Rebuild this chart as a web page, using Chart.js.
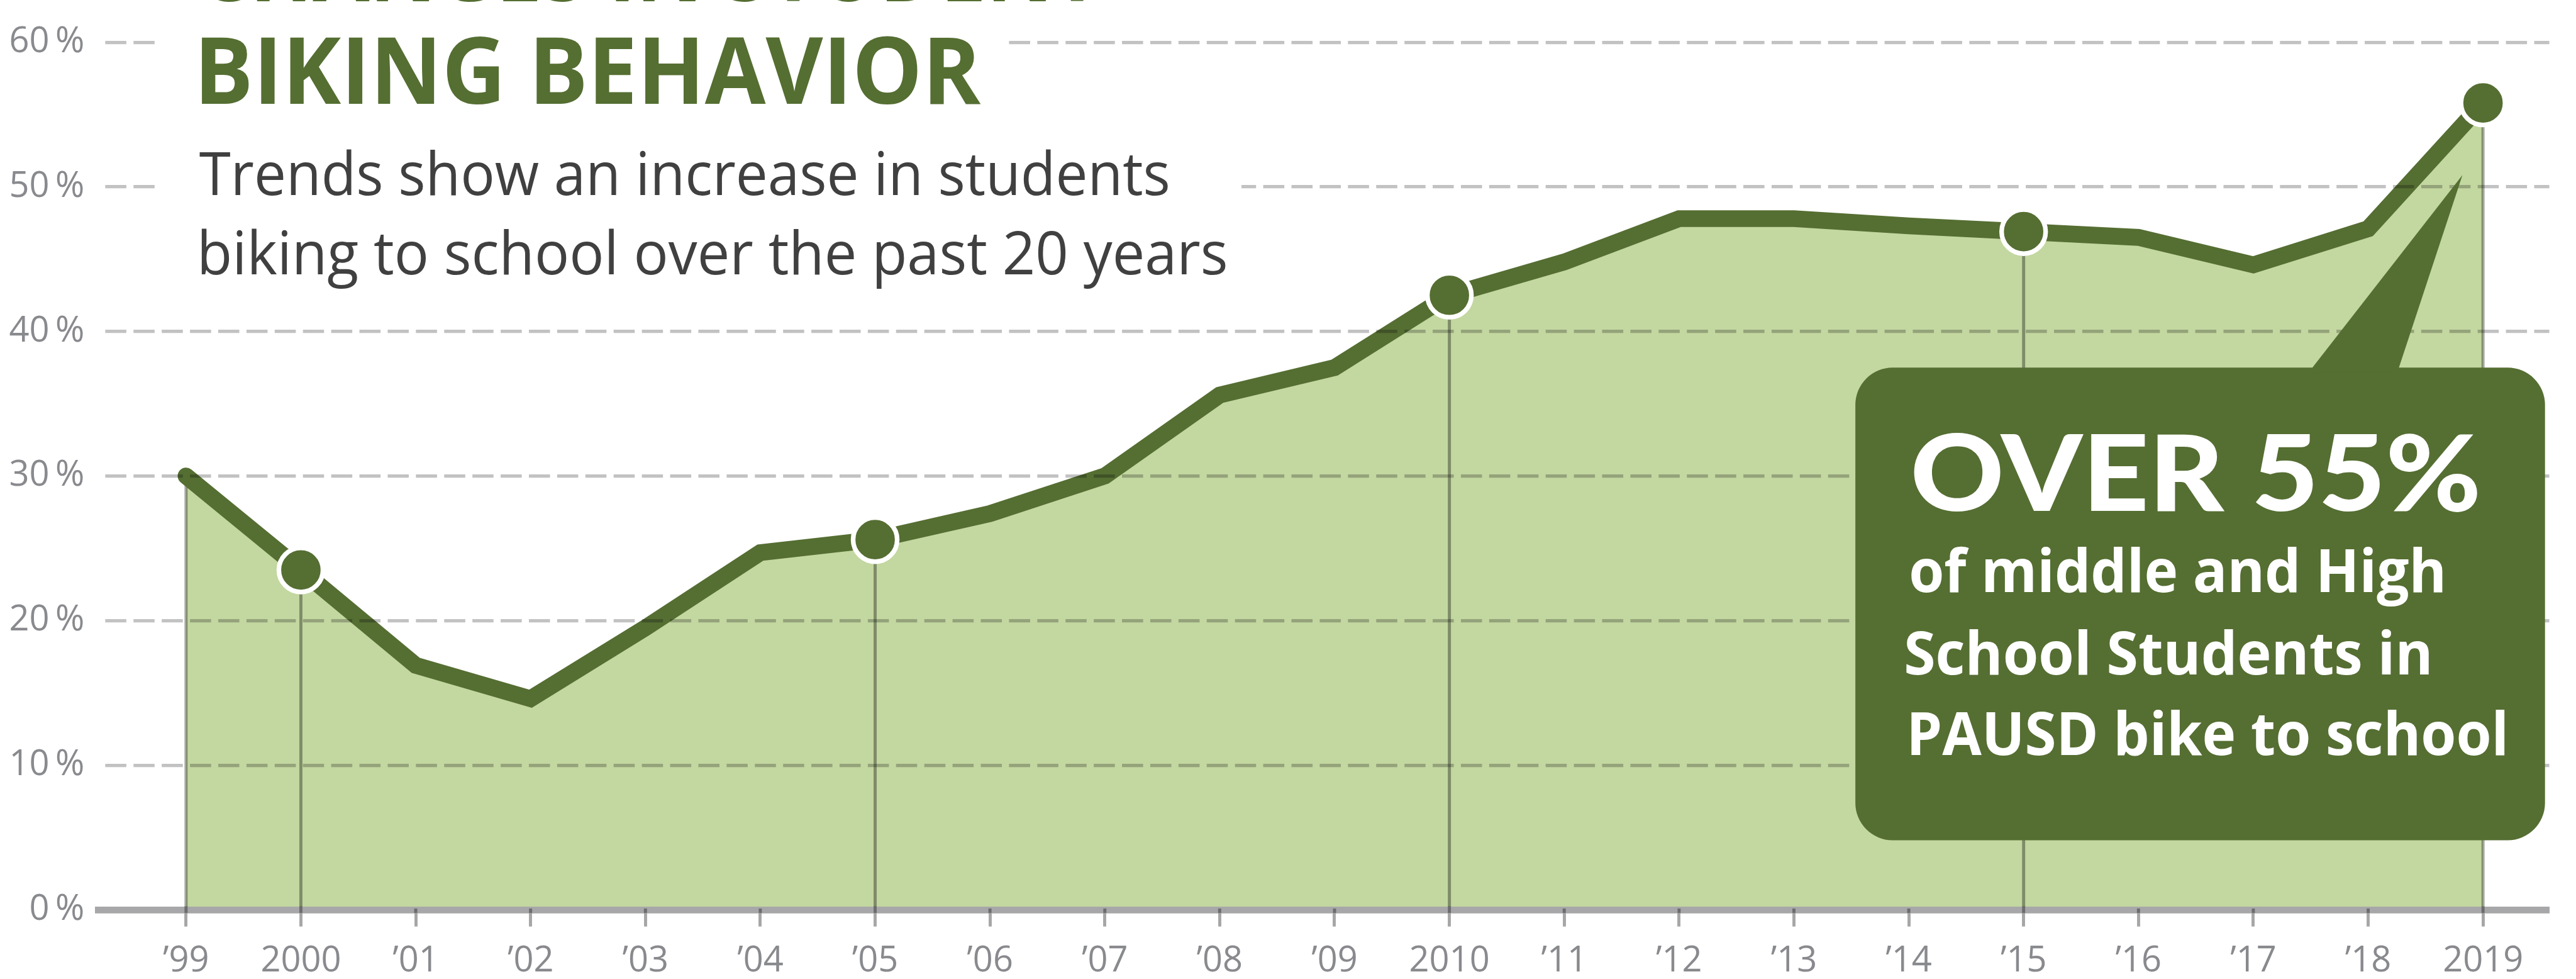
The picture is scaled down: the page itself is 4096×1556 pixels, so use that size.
<!DOCTYPE html>
<html>
<head>
<meta charset="utf-8">
<title>Changes in Student Biking Behavior</title>
<script src="https://cdn.jsdelivr.net/npm/chart.js@4.4.1/dist/chart.umd.min.js"></script>
<style>
  html, body { margin: 0; padding: 0; background: #fff; }
  #wrap { width: 4096px; height: 1556px; position: relative; }
</style>
</head>
<body>
<div id="wrap"><canvas id="bikeChart"></canvas></div>
<script>
// share of PAUSD middle/high school students biking to school
const years = [1999, 2000, 2001, 2002, 2003, 2004, 2005, 2006, 2007, 2008, 2009,
               2010, 2011, 2012, 2013, 2014, 2015, 2016, 2017, 2018, 2019];
const xLabels = ["\u201999", "2000", "\u201901", "\u201902", "\u201903", "\u201904", "\u201905",
                 "\u201906", "\u201907", "\u201908", "\u201909", "2010", "\u201911", "\u201912",
                 "\u201913", "\u201914", "\u201915", "\u201916", "\u201917", "\u201918", "2019"];
const bikingShare = [30, 23.5, 16.9, 14.6, 19.5, 24.7, 25.6, 27.4, 30, 35.6, 37.5,
                     42.5, 44.8, 47.8, 47.8, 47.3, 46.9, 46.5, 44.6, 47.1, 55.8];
const markerYears = [2000, 2005, 2010, 2015, 2019];
const dropYears = [1999, 2000, 2005, 2010, 2015, 2019];
const yTicks = [0, 10, 20, 30, 40, 50, 60];
const yTickLabels = ["0\u2009%", "10\u2009%", "20\u2009%", "30\u2009%", "40\u2009%", "50\u2009%", "60\u2009%"];

const titleLines = ["CHANGES IN STUDENT", "BIKING BEHAVIOR"];
const subtitleLines = ["Trends show an increase in students", "biking to school over the past 20 years"];
const calloutHead = "OVER 55%";
const calloutLines = ["of middle and High", "School Students in", "PAUSD bike to school"];

// everything below is measured on the 4146px wide original, S shrinks it to the window
const S = 0.987;
const W = 4096, H = 1556;
const plotLeft = 158, plotRight = 4115, plotTop = 68, plotBottom = 1465;
const firstX = 300, stepX = 185.4;

const darkGreen = "#556e32";
const lightGreen = "#c3d7a0";
const labelGrey = "#898a8e";
const tickFont = { family: '"Open Sans", sans-serif', size: 56, weight: 400 };

const xMin = years[0] + (plotLeft - firstX) / stepX;
const xMax = years[0] + (plotRight - firstX) / stepX;

function fitText(ctx, text, font, color, inkLeft, inkRight, baseline) {
  ctx.save();
  ctx.font = font;
  ctx.fillStyle = color;
  ctx.textAlign = "left";
  ctx.textBaseline = "alphabetic";
  const m = ctx.measureText(text);
  const inkW = m.actualBoundingBoxLeft + m.actualBoundingBoxRight;
  const sx = (inkRight - inkLeft) * S / inkW;
  ctx.translate(inkLeft * S, baseline * S);
  ctx.scale(sx, 1);
  ctx.fillText(text, m.actualBoundingBoxLeft, 0);
  ctx.restore();
}

const decorations = {
  id: "decorations",
  beforeDatasetDraw(chart, args) {
    // drop lines sit on the fill but under the line and the dots
    if (args.index !== 0) return;
    const { ctx, scales: { x, y } } = chart;
    ctx.save();
    ctx.strokeStyle = "rgba(0,0,0,0.35)";
    ctx.lineWidth = 5 * S;
    dropYears.forEach(yr => {
      const px = x.getPixelForValue(yr);
      ctx.beginPath();
      ctx.moveTo(px, y.getPixelForValue(bikingShare[years.indexOf(yr)]));
      ctx.lineTo(px, y.getPixelForValue(0));
      ctx.stroke();
    });
    ctx.restore();
  },
  afterDraw(chart) {
    const { ctx, scales: { x, y } } = chart;
    const y0 = y.getPixelForValue(0);
    const half = 5.5 * S;

    // tick marks continue a little way into the axis bar
    ctx.save();
    ctx.strokeStyle = "rgba(0,0,0,0.35)";
    ctx.lineWidth = 5 * S;
    years.forEach(yr => {
      const px = x.getPixelForValue(yr);
      const top = dropYears.includes(yr) ? y0 - half : y0 - 2 * S;
      ctx.beginPath();
      ctx.moveTo(px, top);
      ctx.lineTo(px, y0 + half);
      ctx.stroke();
    });
    ctx.restore();

    // white boxes behind the heading knock out the grid lines
    ctx.save();
    ctx.fillStyle = "#fff";
    ctx.fillRect(250 * S, 0, (1614 - 250) * S, 195 * S);
    ctx.fillRect(250 * S, 225 * S, (2000 - 250) * S, (470 - 225) * S);
    ctx.restore();

    fitText(ctx, titleLines[0], `700 ${150 * S}px "Open Sans"`, darkGreen, 325, 1771, 2);
    fitText(ctx, titleLines[1], `700 ${150 * S}px "Open Sans"`, darkGreen, 325, 1580, 167);
    fitText(ctx, subtitleLines[0], `400 ${96.6 * S}px "Open Sans"`, "#404041", 321, 1882, 314);
    fitText(ctx, subtitleLines[1], `400 ${96.6 * S}px "Open Sans"`, "#404041", 325, 1975, 442);

    // callout bubble
    ctx.save();
    ctx.fillStyle = darkGreen;
    ctx.beginPath();
    ctx.roundRect(2989 * S, 592 * S, (4100 - 2989) * S, (1353 - 592) * S, 60 * S);
    ctx.fill();
    ctx.beginPath();
    ctx.moveTo(3719 * S, 600 * S);
    ctx.lineTo(3967 * S, 282 * S);
    ctx.lineTo(3862 * S, 600 * S);
    ctx.closePath();
    ctx.fill();
    ctx.restore();

    fitText(ctx, calloutHead, `900 ${170 * S}px Lato`, "#fff", 3083, 3991, 823);
    fitText(ctx, calloutLines[0], `700 ${96.6 * S}px "Open Sans"`, "#fff", 3079, 3935, 953);
    fitText(ctx, calloutLines[1], `700 ${96.6 * S}px "Open Sans"`, "#fff", 3071, 3913, 1086);
    fitText(ctx, calloutLines[2], `700 ${96.6 * S}px "Open Sans"`, "#fff", 3079, 4035, 1216);
  }
};

new Chart("bikeChart", {
  type: "line",
  data: {
    datasets: [{
      data: years.map((yr, i) => ({ x: yr, y: bikingShare[i] })),
      borderColor: darkGreen,
      borderWidth: 27 * S,
      borderJoinStyle: "miter",
      borderCapStyle: "round",
      backgroundColor: lightGreen,
      fill: "origin",
      pointRadius: 0,
      tension: 0,
      order: 2
    }, {
      data: markerYears.map(yr => ({ x: yr, y: bikingShare[years.indexOf(yr)] })),
      showLine: false,
      pointRadius: 35.5 * S,
      pointHoverRadius: 35.5 * S,
      pointBorderWidth: 7.5 * S,
      pointBackgroundColor: darkGreen,
      pointBorderColor: "#fff",
      clip: false,
      order: 1
    }]
  },
  options: {
    responsive: true,
    maintainAspectRatio: false,
    animation: false,
    events: [],
    layout: { padding: { top: plotTop * S, right: W - plotRight * S, bottom: 0, left: 0 } },
    plugins: {
      legend: { display: false },
      tooltip: { enabled: false }
    },
    scales: {
      x: {
        type: "linear",
        min: xMin,
        max: xMax,
        afterBuildTicks: s => { s.ticks = years.map(v => ({ value: v })); },
        afterFit: s => { s.height = H - plotBottom * S; },
        grid: {
          drawOnChartArea: false,
          drawTicks: true,
          tickLength: 27 * S,
          tickWidth: 5 * S,
          tickColor: "rgba(0,0,0,0.35)",
          color: "rgba(0,0,0,0)"
        },
        border: { display: true, width: 11 * S, color: "#a7a7aa", z: 1 },
        ticks: {
          autoSkip: false,
          maxRotation: 0,
          padding: 22,
          color: labelGrey,
          font: tickFont,
          callback: (v, i) => xLabels[i]
        }
      },
      y: {
        min: 0,
        max: 60,
        afterBuildTicks: s => { s.ticks = yTicks.map(v => ({ value: v })); },
        afterFit: s => { s.width = plotLeft * S; },
        grid: {
          z: 1,
          drawTicks: false,
          lineWidth: 5.3 * S,
          color: c => (c.tick && c.tick.value === 0) ? "rgba(0,0,0,0)" : "rgba(0,0,4,0.24)"
        },
        border: { display: false, dash: [34 * S, 11.5 * S], dashOffset: 34 * S },
        ticks: {
          padding: 22 * S,
          color: labelGrey,
          font: tickFont,
          callback: (v, i) => yTickLabels[i]
        }
      }
    }
  },
  plugins: [decorations]
});
</script>
</body>
</html>
